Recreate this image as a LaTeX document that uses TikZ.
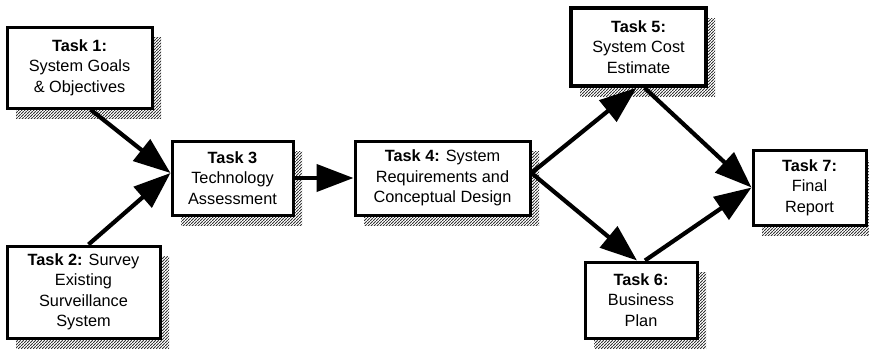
\documentclass[tikz,border=0pt]{standalone}
\usepackage{fontspec}
\setmainfont{Liberation Sans}
\usetikzlibrary{arrows.meta,patterns.meta,shadows,calc}

% dense diagonal hatching for the box shadows
\tikzdeclarepattern{
  name=shadowhatch,
  type=uncolored,
  bounding box={(0pt,0pt) and (2.6pt,2.6pt)},
  tile size={(2.6pt,2.6pt)},
  code={\draw[line width=0.9pt] (-0.5pt,-0.5pt) -- (3.1pt,3.1pt);}
}

\begin{document}
\begin{tikzpicture}[x=1pt,y=-1pt,
  task/.style={draw, line width=3pt, fill=white, align=center, inner sep=0pt,
    font=\fontsize{16.3}{20.5}\selectfont,
    general shadow={pattern=shadowhatch, pattern color=black!80,
      shadow xshift=9pt, shadow yshift=-10pt}},
  flow/.style={line width=4.2pt, -{Triangle[length=37pt,width=27pt]}},
]
\useasboundingbox (0,0) rectangle (869,351);

% task boxes
\node[task, minimum width=145pt, minimum height=81pt] (b1) at (79.5,67.5)
  {\textbf{Task 1:}\\System Goals\\\& Objectives};
\node[task, minimum width=153pt, minimum height=92pt] (b2) at (83.5,292)
  {\textbf{Task 2:} Survey\\Existing\\Surveillance\\System};
\node[task, minimum width=121pt, minimum height=74pt] (b3) at (232.5,178)
  {\textbf{Task 3}\\Technology\\Assessment};
\node[task, minimum width=175pt, minimum height=74pt] (b4) at (442.5,178)
  {\textbf{Task 4:} System\\Requirements and\\Conceptual Design};
\node[task, line width=3.6pt, minimum width=135pt, minimum height=78pt] (b5) at (638.5,47)
  {\textbf{Task 5:}\\System Cost\\Estimate};
\node[task, minimum width=112pt, minimum height=76pt] (b6) at (641,300)
  {\textbf{Task 6:}\\Business\\Plan};
\node[task, minimum width=113pt, minimum height=75pt] (b7) at (809.5,187.5)
  {\textbf{Task 7:}\\Final\\Report};

% flow arrows
\coordinate (in3) at ($(b3.west)+(0,-5)$);
\coordinate (out4) at ($(b4.east)+(0,-5)$);
\draw[flow] ($(b1.south)+(11,0)$) -- (in3);
\draw[flow] ($(b2.north)+(5,0)$) -- (in3);
\draw[flow] (b3.east) -- (b4.west);
\draw[flow] (out4) -- ($(b5.south)+(-2,0)$);
\draw[flow] (out4) -- ($(b6.north)+(-4,0)$);
\draw[flow] ($(b5.south)+(6,0)$) -- (b7.west);
\draw[flow] ($(b6.north)+(4,0)$) -- (b7.west);
\end{tikzpicture}
\end{document}
